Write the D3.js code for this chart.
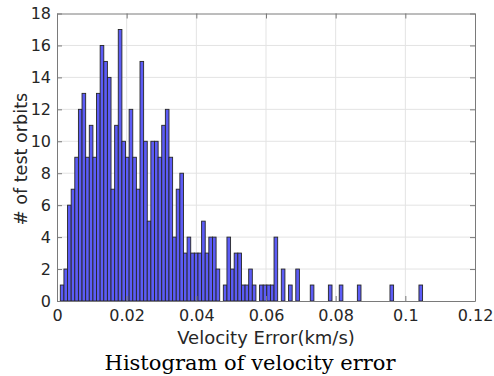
<!DOCTYPE html>
<html>
<head>
<meta charset="utf-8">
<script src="https://cdn.jsdelivr.net/npm/d3@7"></script>
<style>
  body { margin: 0; background: #fff; }
  svg { display: block; }
</style>
</head>
<body>
<div id="chart"></div>
<script>
// histogram counts, 100 equal bins
const binStart = 0.00095;
const binWidth = 0.00104;
const counts = [
  1, 2, 6, 7, 9, 12, 13, 9, 11, 9, 13, 16, 15, 14, 7, 11, 17, 10, 9, 12,
  9, 7, 15, 10, 5, 10, 10, 9, 11, 12, 9, 4, 7, 8, 3, 4, 3, 3, 3, 5,
  3, 4, 4, 2, 0, 1, 4, 2, 3, 3, 1, 1, 2, 1, 0, 1, 1, 1, 1, 4,
  0, 2, 0, 1, 0, 2, 0, 0, 0, 1, 0, 0, 0, 0, 1, 0, 0, 1, 0, 0,
  0, 0, 1, 0, 0, 0, 0, 0, 0, 0, 0, 1, 0, 0, 0, 0, 0, 0, 0, 1
];
const xTicks = [0, 0.02, 0.04, 0.06, 0.08, 0.1, 0.12];
const xTickLabels = ['0', '0.02', '0.04', '0.06', '0.08', '0.1', '0.12'];
const yTicks = [0, 2, 4, 6, 8, 10, 12, 14, 16, 18];

const W = 494, H = 376;
const margin = { top: 13.5, right: 19, bottom: 75, left: 57 };
const width = W - margin.left - margin.right;
const height = H - margin.top - margin.bottom;

const svg = d3.select('#chart').append('svg')
  .attr('width', W)
  .attr('height', H);

const chart = svg.append('g')
  .attr('transform', `translate(${margin.left}, ${margin.top})`);

const x = d3.scaleLinear().domain([0, 0.12]).range([0, width]);
const y = d3.scaleLinear().domain([0, 18]).range([height, 0]);

// grid
chart.append('g').selectAll('line.gx')
  .data(xTicks.slice(1, -1))
  .enter().append('line')
  .attr('x1', d => x(d)).attr('x2', d => x(d))
  .attr('y1', 0).attr('y2', height)
  .attr('stroke', '#e3e3e3');
chart.append('g').selectAll('line.gy')
  .data(yTicks.slice(1, -1))
  .enter().append('line')
  .attr('x1', 0).attr('x2', width)
  .attr('y1', d => y(d)).attr('y2', d => y(d))
  .attr('stroke', '#e3e3e3');

const bins = counts.map((c, i) => ({ x0: binStart + i * binWidth, x1: binStart + (i + 1) * binWidth, c }));

chart.selectAll('.bar')
  .data(bins.filter(d => d.c > 0))
  .enter()
  .append('rect')
  .attr('class', 'bar')
  .attr('x', d => x(d.x0))
  .attr('y', d => y(d.c))
  .attr('width', d => x(d.x1) - x(d.x0))
  .attr('height', d => height - y(d.c))
  .attr('fill', '#5c5cf6')
  .attr('stroke', '#262626')
  .attr('stroke-width', 0.9);

// box + inward ticks
const axisColor = '#7a7a7a';
const tickFont = 'DejaVu Sans, sans-serif';

const xAxis = d3.axisBottom(x).tickValues(xTicks).tickFormat((d, i) => xTickLabels[i])
  .tickSizeInner(-5).tickSizeOuter(0).tickPadding(9);
const yAxis = d3.axisLeft(y).tickValues(yTicks).tickSizeInner(-5).tickSizeOuter(0).tickPadding(6);
const xAxisTop = d3.axisTop(x).tickValues(xTicks).tickFormat('').tickSizeInner(-5).tickSizeOuter(0);
const yAxisRight = d3.axisRight(y).tickValues(yTicks).tickFormat('').tickSizeInner(-5).tickSizeOuter(0);

const gx = chart.append('g').attr('transform', `translate(0, ${height})`).call(xAxis);
const gy = chart.append('g').call(yAxis);
const gt = chart.append('g').call(xAxisTop);
const gr = chart.append('g').attr('transform', `translate(${width}, 0)`).call(yAxisRight);

[gx, gy, gt, gr].forEach(g => {
  g.select('.domain').attr('stroke', axisColor);
  g.selectAll('.tick line').attr('stroke', axisColor);
  g.selectAll('.tick text')
    .attr('fill', '#262626')
    .style('font-family', tickFont)
    .style('font-size', '16px');
});

svg.append('text')
  .attr('x', 266)
  .attr('y', 344)
  .attr('text-anchor', 'middle')
  .style('font-family', tickFont)
  .style('font-size', '18px')
  .attr('fill', '#262626')
  .text('Velocity Error(km/s)');

svg.append('text')
  .attr('transform', 'translate(27, 159) rotate(-90)')
  .attr('text-anchor', 'middle')
  .style('font-family', tickFont)
  .style('font-size', '17.6px')
  .attr('fill', '#262626')
  .text('# of test orbits');

svg.append('text')
  .attr('x', 250)
  .attr('y', 370)
  .attr('text-anchor', 'middle')
  .style('font-family', 'DejaVu Serif, serif')
  .style('font-size', '21px')
  .attr('fill', '#000')
  .text('Histogram of velocity error');
</script>
</body>
</html>
